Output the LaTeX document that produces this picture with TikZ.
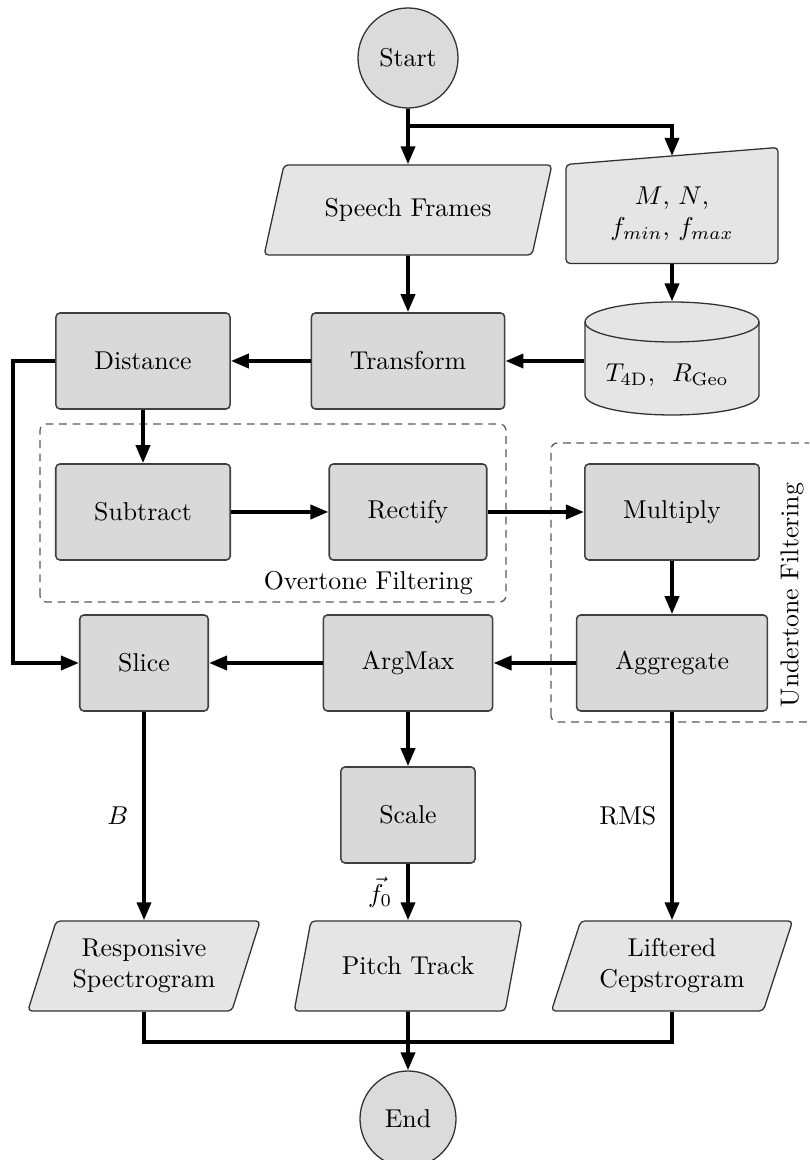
\documentclass[tikz,border=0pt]{standalone}
\usetikzlibrary{shapes.geometric,arrows.meta,backgrounds,calc}
% one drawing unit
\def\pxu{0.3876pt}
\tikzset{
  proc/.style={rectangle, rounded corners=1.6pt, draw=black!75, line width=0.6pt,
    fill=gray!30, inner xsep=14.9pt, minimum height={96*\pxu}},
  io/.style={trapezium, trapezium left angle=70, trapezium right angle=110,
    trapezium stretches=true, rounded corners=1.6pt, draw=black!80, line width=0.5pt,
    fill=gray!20, minimum height={90*\pxu}, align=center},
  term/.style={circle, draw=black!80, line width=0.5pt, fill=gray!28,
    minimum size={100*\pxu}, inner sep=0pt},
  iobody/.style={draw=black!80, line width=0.5pt, fill=gray!20},
  flow/.style={line width=1.5pt, -{Triangle[length=7pt,width=5.4pt]}},
  wire/.style={line width=1.5pt},
  group/.style={draw=black!65, dash pattern=on 3pt off 2.2pt, line width=0.5pt,
    rounded corners=2.5pt},
}
\begin{document}
\begin{tikzpicture}[x=\pxu, y=\pxu]
\useasboundingbox (0,0) rectangle (809,1160);
\clip (0,0) rectangle (809,1160);

% filtering groups
\draw[group] (40,558) rectangle (506,736);
\draw[group] (551,438) rectangle (830,717);
\node[anchor=base east] (otlabel) at (482,570) {Overtone Filtering};
\node[rotate=90] (utlabel) at (792,565) {Undertone Filtering};

% nodes
\node[term] (start) at (408,1102) {Start};
\node[io, minimum width={290*\pxu}] (speech) at (408,950) {Speech Frames};
\node[minimum width={211*\pxu}, minimum height={98*\pxu}, inner sep=0pt, align=center]
  (params) at (672,946) {$M$, $N$,\\ $f_{min}$, $f_{max}$};
\node[minimum width={174*\pxu}, minimum height={113*\pxu}, inner sep=0pt] (db) at (672,801.5) {};
\node (dbtext) at (667,785) {$T_{\mathrm{4D}}$,\ \ $R_{\mathrm{Geo}}$};

\node[proc] (transform) at (408,799) {Transform};
\node[proc] (distance)  at (143,799) {Distance};
\node[proc] (subtract)  at (143,648) {Subtract};
\node[proc] (rectify)   at (408,648) {Rectify};
\node[proc] (multiply)  at (672,648) {Multiply};
\node[proc] (aggregate) at (672,497) {Aggregate};
\node[proc] (argmax)    at (408,497) {ArgMax};
\node[proc] (slice)     at (144,497) {Slice};
\node[proc] (scale)     at (408,345) {Scale};

\node[io, minimum width={234*\pxu}] (resp)  at (144,194) {Responsive\\Spectrogram};
\node[io, minimum width={228*\pxu}] (pitch) at (408,194) {Pitch Track};
\node[io, minimum width={242*\pxu}] (lift)  at (672,194) {Liftered\\Cepstrogram};
\node[term, minimum size={96*\pxu}] (end) at (408,41) {End};

% manual input and storage bodies
\begin{pgfonlayer}{background}
  \draw[iobody, rounded corners=1.6pt] (params.south west) -- (params.south east)
    -- ($(params.north east)+(0,17)$) -- (params.north west) -- cycle;
  \draw[iobody] ($(db.center)+(-87,36.5)$) -- ($(db.center)+(-87,-36.5)$)
    arc[start angle=180, end angle=360, x radius={87*\pxu}, y radius={20*\pxu}]
    -- ($(db.center)+(87,36.5)$)
    arc[start angle=0, end angle=180, x radius={87*\pxu}, y radius={20*\pxu}] -- cycle;
  \draw[draw=black!80, line width=0.5pt] ($(db.center)+(-87,36.5)$)
    arc[start angle=180, end angle=360, x radius={87*\pxu}, y radius={20*\pxu}];
\end{pgfonlayer}

% connectors
\coordinate (fork) at (408,1034);
\path (params.north west) -- ($(params.north east)+(0,17)$) coordinate[pos=0.5] (paramstop);
\coordinate (merge) at (408,118);

\draw[flow] (start) -- (speech);
\draw[flow] (fork) -| (paramstop);
\draw[flow] (speech) -- (transform);
\draw[flow] (params) -- (db.north);
\draw[flow] (db.west |- transform) -- (transform);
\draw[flow] (transform) -- (distance);
\draw[flow] (distance) -- (subtract);
\draw[flow] (distance.west) -- ++(-42,0) |- (slice.west);
\draw[flow] (subtract) -- (rectify);
\draw[flow] (rectify) -- (multiply);
\draw[flow] (multiply) -- (aggregate);
\draw[flow] (aggregate) -- (argmax);
\draw[flow] (argmax) -- (slice);
\draw[flow] (argmax) -- (scale);
\draw[flow] (slice) -- node[left=2pt] {$B$} (resp);
\draw[flow] (scale) -- node[left=2pt] {$\vec{f}_0$} (pitch);
\draw[flow] (aggregate) -- node[left=2pt] {RMS} (lift);
\draw[wire] (resp.center |- resp.south) |- (merge) -| (lift.center |- lift.south);
\draw[flow] (pitch) -- (end);
\end{tikzpicture}
\end{document}
